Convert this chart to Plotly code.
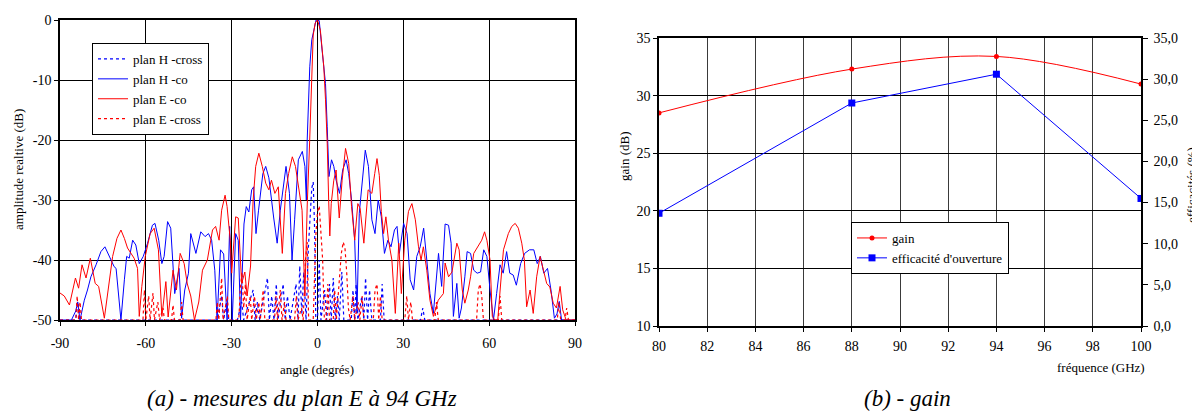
import plotly.graph_objects as go

# ---------------- (a) radiation pattern data (angle in deg, level in dB) ----------------
e_co_angle = [-90, -88.5, -86.7, -85.5, -84.6, -83.5, -82.3, -80.9, -79.4, -77.7, -76.5, -74.5, -72.8, -71.6,
              -70.1, -68.7, -67.5, -66.4, -64.1, -62.9, -62.3, -61.4, -60.2, -58.5, -57.1, -55.6, -54.4, -53,
              -52.2, -50.5, -49.3, -48, -46.6, -45.5, -44.3, -43, -41.5, -40.2, -38.5, -36.7, -35.6, -34.4,
              -33.5, -32.3, -31.6, -30.5, -30, -28.6, -27.7, -26.5, -25.4, -24.6, -23.4, -22.5, -21.6, -20.5,
              -19.3, -18.1, -17, -16.1, -14.9, -13.7, -12.3, -11.2, -10.1, -8.8, -7.7, -6.5, -5.4, -4.4, -3.6,
              -2.8, -2.4, -1.9, -1.5, -0.8, 0, 1.0, 2.2, 2.8, 3.4, 3.9, 4.3, 4.8, 5.7, 6.5, 7.6, 8.6, 9.8,
              10.9, 11.9, 13, 14.1, 14.9, 16.2, 17.7, 19, 20, 20.8, 21.6, 22.3, 23.1, 23.9, 24.8, 26, 27.2,
              28.4, 29.3, 30.5, 31.8, 33, 34.2, 35.3, 36.2, 37, 38.2, 39.3, 40.5, 42.2, 44, 44.6, 45.8, 47,
              48.7, 49.5, 50.6, 51.5, 52.7, 53.5, 54.6, 56.3, 57.4, 58.4, 59.2, 60.3, 61.1, 62, 63, 64, 65,
              66.7, 67.9, 69.1, 70.2, 71.4, 72.3, 73.1, 74.3, 75.4, 76.6, 77.8, 78.9, 80.1, 81.2, 82.4, 83.5,
              84.8, 85.7, 86.9, 90]
e_co_db = [-45.5, -46, -47.5, -45, -43, -44.7, -40.8, -43, -39.7, -43.9, -44.4, -49.7, -43.9, -39.4,
           -36.4, -35, -36.4, -38, -39.7, -41.4, -49.4, -44.4, -39.4, -35.6, -34.7, -38.3, -49.4, -43.6,
           -49.5, -41.7, -45, -38.9, -40.6, -44, -46, -50, -47, -41.7, -40, -35, -34.4, -36.7,
           -31.7, -29.2, -31.1, -36.7, -42.2, -32.8, -33, -43.9, -42, -46, -41, -30, -24.4, -22.2,
           -24.4, -27.2, -28.3, -26.7, -28.9, -27.8, -38.9, -28.9, -25.6, -22.8, -24.4, -28.3, -31.7, -46, -31,
           -21, -16, -7.8, -2.5, -0.5, 0, -1.7, -7.8, -13.3, -20.6, -30, -36, -30.6, -26.7, -25, -33, -26.7, -21.4,
           -23.9, -31.1, -36.7, -30.6, -31.4, -37.2, -28.3, -28.9, -25.6, -23.1, -25.9, -31.9, -35.6, -32.8, -36.7, -40, -48.9,
           -37.2, -45.6, -36.7, -31.9, -30.6, -33.3, -37.8, -40, -37.8, -41.7, -46.7, -49.4, -46.7, -45.6, -40.5, -42.8, -42,
           -37.2, -38.3, -45, -47.2, -45, -42.8, -38.9, -37.5, -36.7, -35.3, -36.7, -40, -49.4, -50, -50, -44, -38.3,
           -35.6, -34.4, -33.9, -34.7, -37.2, -40, -47.8, -45, -48.9, -42.8, -39.4, -41.7, -43.9, -44.5, -47.2, -48,
           -44.4, -48.3, -50, -50]

h_co_angle = [-90, -86, -84.5, -83.8, -83, -81.5, -80.4, -79.2, -77.4, -75.7, -74.3, -73, -72.2, -71.1, -70.4,
              -69.5, -68.7, -67.5, -66.7, -65.8, -64.6, -63.5, -62.3, -60.9, -59.4, -57.7, -56.8, -55.5, -54.4,
              -53.6, -52.4, -51.3, -50.5, -49.9, -48.4, -47.5, -46.4, -45.1, -44.3, -42.5, -40.8, -39.3, -38.1,
              -37, -35.9, -35.1, -33.9, -32.8, -31.6, -30.7, -29.8, -28.6, -27.7, -26.9, -25.7, -24.9, -24, -23,
              -22.3, -21.5, -20.6, -19.1, -18.1, -17, -15.3, -14.1, -13, -11.8, -11, -9.8, -8.9, -8, -6.7, -5.3,
              -4.4, -3.9, -3.6, -2.7, -2.0, -0.5, 0.6, 1.6, 2.8, 3.4, 3.7, 4.0, 4.9, 5.7, 6.5, 7.7, 8.8, 10,
              10.9, 11.9, 13, 13.8, 14.6, 15.8, 16.7, 17.8, 19, 20.1, 21.2, 22.3, 23.4, 24.6, 25.7, 26.9, 27.8,
              28.6, 30.1, 31.3, 32.4, 33.6, 34.7, 35.9, 37.1, 38.2, 39.3, 40.5, 42.3, 43.4, 44.6, 45.8, 46.7,
              47.5, 48.7, 49.5, 50.3, 51.5, 52.3, 53.5, 54.6, 55.8, 57, 58.1, 59.2, 60.3, 61.5, 62.6, 63.8, 64.9,
              66.1, 67.2, 68.4, 69.5, 71, 72.4, 74.1, 75.6, 76.8, 77.9, 79.1, 80.4, 81.6, 82.8, 83.7, 84.5, 85.3, 90]
h_co_db = [-50, -50, -48.5, -47, -50, -46.7, -45, -42.8, -40.8, -38.6, -37.8, -39.2, -40, -41.1, -41.4,
           -46, -50, -43.3, -39.4, -39.7, -36.7, -37.5, -40.6, -39.4, -37.2, -34.2, -33.9, -36.7, -40.6,
           -39.4, -33.6, -34.7, -40, -45.6, -41.4, -49.7, -45, -42.2, -35.6, -38.9, -35.3, -36.1, -35.6,
           -36.7, -41.7, -50, -38.3, -39, -50, -34.4, -50, -35.6, -36.7, -50, -34, -31.1, -32, -28.3,
           -27.8, -35.6, -31.7, -25.6, -24.4, -26.3, -33, -37.2, -31.7, -26.7, -24.4, -28.9, -40, -33.3, -23.3, -21.9,
           -24.4, -30, -20, -7.8, -3.3, 0, -0.1, -5, -10.6, -17.8, -24.4, -26.1, -23.3, -24.4, -26.7, -28.9, -25, -23.3,
           -25.6, -30, -36.7, -48.9, -32.2, -25.6, -21.7, -24.4, -33.3, -35.6, -30, -32.8, -38.9, -36.7, -37.8, -35, -34.4,
           -38.9, -33.9, -35.6, -43.3, -45, -39.4, -37.8, -34.7, -40, -45.6, -48.9, -38.9, -44.4, -34, -34.2, -37.2,
           -49.4, -43.9, -49.7, -48, -42.8, -38.6, -38.9, -41.7, -42.2, -42, -38.3, -39.4, -45, -50, -45.6, -40.8, -42.2,
           -38.6, -42.2, -42.5, -44.2, -40.6, -38.9, -38.3, -38.3, -40.6, -39.4, -42.2, -41.4, -45, -49.7, -49, -46.9, -50, -50]

h_cross_angle = [-90, -84.5, -83.8, -83, -35, -33.5, -32.8, -31.8, -31, -28, -26.5, -25.8, -22.5, -21.8, -21, -20.2,
                 -17.5, -16.8, -16, -15.2, -14.4, -13.8, -12, -11.3, -10.5, -9.6, -7.5, -6.8, -6.2, -5.5, -4.8, -4,
                 -3.2, -2.6, -2.0, -1.5, -1.0, -0.6, 0, 0.6, 1.2, 2.5, 3.2, 4.2, 4.8, 5.5, 6.2, 7, 7.6, 8.5, 9.2,
                 11.8, 12.4, 13, 13.5, 14.1, 15.5, 16.2, 16.8, 17.5, 18.2, 19, 22, 22.6, 23.3, 36, 36.8, 37.5, 90]
h_cross_db = [-50, -50, -47, -50, -50, -46, -50, -47, -50, -50, -47, -50, -45, -50, -47, -50,
              -43, -50, -46, -50, -44, -50, -44, -50, -46, -50, -44, -50, -41, -49, -42, -50,
              -38, -33, -28, -27, -35, -50, -50, -40, -50, -45, -50, -44, -50, -43, -50, -46, -50, -42, -50,
              -50, -45, -50, -44, -50, -46, -50, -43, -50, -45, -50, -50, -44, -50, -50, -48, -50, -50]

e_cross_angle = [-90, -84.5, -84, -83.5, -83, -82.5, -61, -60.5, -60, -59, -58.5, -57.5, -57, -55.8, -55.2, -54,
                 -53.5, -51, -50.5, -50, -48, -47.5, -47, -35.5, -35, -34.5, -33.5, -33, -31.5, -31, -27.5, -27,
                 -26.4, -25.8, -25.2, -24.6, -23.5, -23, -22, -21.4, -20.5, -20, -19, -18.4, -15, -14.5, -14, -13,
                 -12.4, -11.5, -11, -8, -7.4, -6.8, -5.6, -5, -4.2, -3.6, -3.1, -1.5, -0.6, 0, 0.6, 1.2, 1.8, 2.4,
                 3, 3.6, 4.2, 5.5, 6, 6.6, 7.6, 8.3, 9, 9.6, 10.2, 10.8, 11.4, 12.4, 13, 14.2, 14.8, 15.6, 16.2,
                 19.5, 20.1, 20.8, 21.4, 22, 22.6, 30.5, 31.2, 31.8, 32.6, 33.2, 41, 41.6, 42.2, 55.6, 56.2, 56.8,
                 57.4, 58, 63.2, 63.8, 64.4, 83.8, 84.4, 85, 86.5, 87.1, 87.7, 90]
e_cross_db = [-50, -50, -46, -50, -47, -50, -50, -45, -50, -46, -50, -45.5, -50, -47, -50, -48,
              -50, -50, -47.5, -50, -50, -47, -50, -50, -47, -50, -43, -50, -46, -50, -50, -45,
              -42, -48, -44, -50, -46, -50, -46, -50, -47, -50, -45, -50, -50, -46, -50, -45,
              -50, -47, -50, -50, -46, -50, -48, -50, -40, -37, -50, -50, -36, -32, -31, -35, -40, -50,
              -50, -44, -50, -50, -45, -50, -43, -39, -37, -38, -42, -48, -50, -46, -50, -47, -50, -46, -50,
              -50, -45, -44, -50, -46, -50, -50, -46, -50, -47, -50, -50, -47, -50, -50, -45, -44,
              -46, -50, -50, -46, -50, -50, -47, -50, -50, -48, -50, -50]

# ---------------- (b) gain / efficiency data ----------------
freq = [80, 88, 94, 100]
gain_db = [28.5, 32.3, 33.4, 31.0]
efficacite = [13.7, 27.1, 30.6, 15.5]

# tick labels
angle_tickvals = [-90, -60, -30, 0, 30, 60, 90]
angle_ticktext = ["-90", "-60", "-30", "0", "30", "60", "90"]
amp_tickvals = [-50, -40, -30, -20, -10, 0]
amp_ticktext = ["-50", "-40", "-30", "-20", "-10", "0"]
freq_tickvals = [80, 82, 84, 86, 88, 90, 92, 94, 96, 98, 100]
gain_tickvals = [10, 15, 20, 25, 30, 35]
eff_tickvals = [0, 5, 10, 15, 20, 25, 30, 35]
eff_ticktext = ["0,0", "5,0", "10,0", "15,0", "20,0", "25,0", "30,0", "35,0"]

FONT = "Liberation Serif, Times New Roman, serif"
OFF = 8                      # default page margin of the html body
W, H = 1200 - OFF, 412 - OFF


def px_x(p):
    return (p - OFF) / W


def px_y(p):
    return 1 - (p - OFF) / H


BLUE = "#0000ff"
RED = "#ff0000"

fig = go.Figure()
fig.add_trace(go.Scatter(x=h_cross_angle, y=h_cross_db, mode="lines", name="plan H -cross",
                         line=dict(color=BLUE, width=1.2, dash="dot"), xaxis="x", yaxis="y", legend="legend"))
fig.add_trace(go.Scatter(x=h_co_angle, y=h_co_db, mode="lines", name="plan H -co",
                         line=dict(color=BLUE, width=1), xaxis="x", yaxis="y", legend="legend"))
fig.add_trace(go.Scatter(x=e_co_angle, y=e_co_db, mode="lines", name="plan E -co",
                         line=dict(color=RED, width=1), xaxis="x", yaxis="y", legend="legend"))
fig.add_trace(go.Scatter(x=e_cross_angle, y=e_cross_db, mode="lines", name="plan E -cross",
                         line=dict(color=RED, width=1.2, dash="dot"), xaxis="x", yaxis="y", legend="legend"))

fig.add_trace(go.Scatter(x=freq, y=gain_db, mode="lines+markers", name="gain",
                         line=dict(color=RED, width=1, shape="spline", smoothing=1.0),
                         marker=dict(symbol="circle", size=5, color=RED),
                         xaxis="x2", yaxis="y2", legend="legend2"))
fig.add_trace(go.Scatter(x=freq, y=efficacite, mode="lines+markers", name="efficacité d'ouverture",
                         line=dict(color=BLUE, width=1),
                         marker=dict(symbol="square", size=7, color=BLUE),
                         xaxis="x2", yaxis="y3", legend="legend2"))

tickfont = dict(family=FONT, size=14, color="black")
axis_common = dict(showline=True, linecolor="black", linewidth=1.5, mirror=True, zeroline=False,
                   showgrid=True, gridcolor="black", gridwidth=1.2, tickfont=tickfont,
                   ticks="outside", ticklen=4, tickcolor="black", automargin=False)

fig.update_layout(
    width=W, height=H,
    margin=dict(l=0, r=0, t=0, b=0, pad=0, autoexpand=False),
    paper_bgcolor="white", plot_bgcolor="white",
    font=dict(family=FONT, size=13, color="black"),
    showlegend=True,
    xaxis=dict(domain=[px_x(60), px_x(575)], range=[-90, 90], tickvals=angle_tickvals,
               ticktext=angle_ticktext, anchor="y", ticklabelstandoff=5, **axis_common),
    yaxis=dict(domain=[px_y(320), px_y(20)], range=[-50, 0], tickvals=amp_tickvals,
               ticktext=amp_ticktext, anchor="x", **axis_common),
    xaxis2=dict(domain=[px_x(659), px_x(1141)], range=[80, 100], tickvals=freq_tickvals, anchor="y2",
                ticklabelstandoff=2, **{**axis_common, "gridcolor": "#3a3a3a"}),
    yaxis2=dict(domain=[px_y(326), px_y(38)], range=[10, 35], tickvals=gain_tickvals, anchor="x2",
                **axis_common),
    yaxis3=dict(range=[0, 35], overlaying="y2", side="right", anchor="x2", showgrid=False,
                tickvals=eff_tickvals, ticktext=eff_ticktext, zeroline=False, automargin=False,
                showline=True, linecolor="black", linewidth=1.5, ticks="outside", ticklen=5,
                tickcolor="black", tickfont=tickfont, ticklabelstandoff=3),
    legend=dict(x=px_x(92), y=px_y(43), xanchor="left", yanchor="top", bgcolor="white",
                bordercolor="black", borderwidth=1, font=dict(family=FONT, size=13),
                tracegroupgap=0),
    legend2=dict(x=px_x(851), y=px_y(222), xanchor="left", yanchor="top", bgcolor="white",
                 bordercolor="black", borderwidth=1, font=dict(family=FONT, size=13),
                 tracegroupgap=0),
)

ann = [
    dict(text="amplitude realtive (dB)", x=px_x(18), y=px_y(170), angle=-90, size=13),
    dict(text="angle (degrés)", x=px_x(317), y=px_y(369), angle=0, size=13),
    dict(text="gain (dB)", x=px_x(624), y=px_y(157), angle=-90, size=13),
    dict(text="efficacités (%)", x=px_x(1192), y=px_y(185), angle=-90, size=13),
    dict(text="fréquence (GHz)", x=px_x(1101), y=px_y(367), angle=0, size=13),
    dict(text="<i>(a) - mesures du plan E à 94 GHz</i>", x=px_x(302), y=px_y(398), angle=0, size=23),
    dict(text="<i>(b) - gain</i>", x=px_x(907), y=px_y(398), angle=0, size=23),
]
for a in ann:
    fig.add_annotation(xref="paper", yref="paper", showarrow=False, xanchor="center", yanchor="middle",
                       font=dict(family=FONT, color="black", size=a["size"]),
                       text=a["text"], x=a["x"], y=a["y"], textangle=a["angle"])

fig.write_html("out.html")
